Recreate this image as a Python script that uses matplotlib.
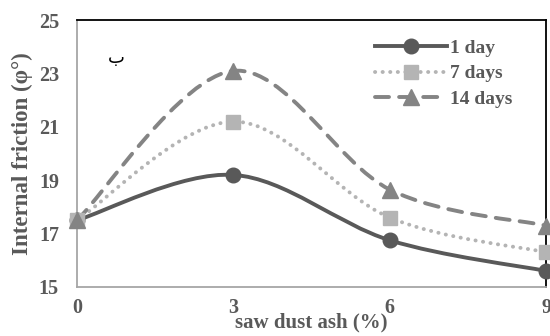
import numpy as np
import matplotlib.pyplot as plt
from matplotlib.path import Path
from matplotlib.patches import PathPatch
from matplotlib.lines import Line2D

ash = [0, 3, 6, 9]
day1 = [17.5, 19.2, 16.75, 15.6]
day7 = [17.5, 21.2, 17.6, 16.3]
day14 = [17.5, 23.1, 18.65, 17.3]
labels = ["1 day", "7 days", "14 days"]

txt = "#595959"
plt.rcParams['font.family'] = ['Liberation Serif', 'DejaVu Sans']
plt.rcParams['font.weight'] = 'bold'


def smooth_path(x, y):
    # Excel-style smoothed line: cubic Bezier through the points
    p = np.column_stack([x, y]).astype(float)
    verts = [p[0]]
    codes = [Path.MOVETO]
    n = len(p)
    for i in range(n - 1):
        prev = p[i - 1] if i > 0 else p[i]
        nxt = p[i + 2] if i + 2 < n else p[i + 1]
        c1 = p[i] + (p[i + 1] - prev) / 6
        c2 = p[i + 1] - (nxt - p[i]) / 6
        verts += [c1, c2, p[i + 1]]
        codes += [Path.CURVE4] * 3
    return Path(verts, codes)


fig = plt.figure(figsize=(5.5, 3.36), dpi=100)
ax = fig.add_axes([0.14, 0.146, 0.853, 0.794])

series = [
    (day1, "#595959", "-", "o", 10.5),
    (day7, "#b4b4b4", (0, (0.05, 1.9)), "s", 10.5),
    (day14, "#848484", (0, (3.6, 2.6)), "^", 11),
]
handles = []
for vals, col, ls, mk, ms in series:
    patch = PathPatch(smooth_path(ash, vals), facecolor="none", edgecolor=col,
                      lw=2.8, linestyle=ls, capstyle="round", clip_on=False, zorder=2)
    ax.add_patch(patch)
    ax.plot(ash, vals, linestyle="none", marker=mk, ms=ms, color=col,
            clip_on=False, zorder=3)
    handles.append(Line2D([], [], color=col, lw=2.8, linestyle=ls, marker=mk,
                          ms=ms, dash_capstyle="round"))

ax.set_xlim(0, 9)
ax.set_ylim(15, 25)
ax.set_xticks(ash)
ax.set_yticks(range(15, 26, 2))
ax.tick_params(length=0, labelsize=14.5, labelcolor=txt)
ax.tick_params(axis="x", pad=8)
ax.tick_params(axis="y", pad=13)
for lab in ax.get_xticklabels() + ax.get_yticklabels():
    lab.set_fontweight("bold")

ax.spines["top"].set_color("black")
ax.spines["right"].set_color("black")
ax.spines["left"].set_color("#a6a6a6")
ax.spines["bottom"].set_color("#a6a6a6")
for s in ax.spines.values():
    s.set_linewidth(1.3)

ax.set_ylabel("Internal friction (φ°)", fontsize=16.5, color=txt,
              fontweight="bold", labelpad=4)
ax.set_xlabel("saw dust ash (%)", fontsize=15, color=txt, fontweight="bold",
              labelpad=-4)

ax.text(0.6, 23.4, "ب", family="DejaVu Sans", fontsize=13, color="black",
        fontweight="normal")

leg = ax.legend(handles, labels, loc="upper right", frameon=False,
                bbox_to_anchor=(0.965, 0.995), handlelength=3.7,
                handletextpad=0.15, labelspacing=0.42,
                prop={"size": 14, "weight": "bold"})
for t in leg.get_texts():
    t.set_color(txt)

fig.savefig("out.png", dpi=100)
